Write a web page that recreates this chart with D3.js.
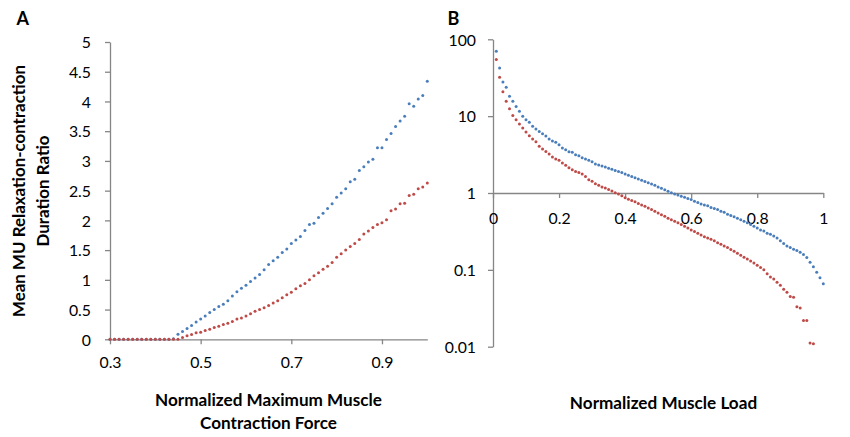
<!DOCTYPE html>
<html>
<head>
<meta charset="utf-8">
<script src="https://cdn.jsdelivr.net/npm/d3@7"></script>
<style>
  html, body { margin: 0; padding: 0; background: #fff; }
  svg { display: block; }
  text { font-family: Lato, "Open Sans", sans-serif; fill: #000; }
</style>
</head>
<body>
<svg id="chart" width="850" height="437"></svg>
<script>
// ---------- Panel A data ----------
const xA = d3.range(71).map(i => +(0.30 + i * 0.01).toFixed(2));
const blueA = [0,0,0,0,0,0,0,0,0,0,0,0,0,0, 0.01,
  0.084,0.13,0.18,0.23,0.29,0.34,0.39,0.45,0.50,0.55,
  0.59,0.65,0.73,0.80,0.86,0.91,0.97,1.03,1.09,1.17,
  1.26,1.32,1.38,1.46,1.52,1.61,1.67,1.73,1.83,1.93,
  1.95,2.05,2.12,2.20,2.28,2.39,2.46,2.53,2.65,2.69,
  2.84,2.90,2.98,3.03,3.22,3.22,3.36,3.46,3.58,3.67,
  3.75,3.96,3.92,4.04,4.10,4.34];
const redA = [0,0,0,0,0,0,0,0,0,0,0,0,0,0,0,0,
  0.03,0.06,0.08,0.11,0.12,0.15,0.17,0.20,0.22,0.25,
  0.27,0.30,0.34,0.36,0.39,0.43,0.47,0.50,0.53,0.57,
  0.61,0.65,0.70,0.75,0.79,0.85,0.90,0.94,1.00,1.07,
  1.12,1.18,1.23,1.29,1.38,1.44,1.50,1.56,1.61,1.68,
  1.77,1.82,1.88,1.93,1.96,2.01,2.16,2.19,2.28,2.29,
  2.42,2.44,2.53,2.56,2.63];
const xTicksA = [0.3, 0.5, 0.7, 0.9];
const yTicksA = [0,0.5,1,1.5,2,2.5,3,3.5,4,4.5,5];

// ---------- Panel B data ----------
const xB = d3.range(1, 101).map(i => +(i * 0.01).toFixed(2));
const blueB = [69.8,42.4,27.9,23.7,18.1,15.6,13.4,11.6,9.94,9.0,
  8.3,7.4,6.8,6.3,5.9,5.5,5.05,4.75,4.56,4.26,
  3.85,3.66,3.45,3.38,3.15,3.06,2.88,2.77,2.66,2.56,
  2.39,2.31,2.24,2.18,2.10,2.03,1.96,1.91,1.85,1.77,
  1.70,1.64,1.58,1.52,1.47,1.41,1.36,1.31,1.26,1.20,
  1.15,1.10,1.05,1.01,0.97,0.94,0.91,0.88,0.85,0.82,
  0.78,0.75,0.72,0.70,0.68,0.65,0.63,0.61,0.58,0.56,
  0.53,0.51,0.49,0.47,0.45,0.43,0.41,0.39,0.37,0.35,
  0.33,0.32,0.30,0.29,0.275,0.26,0.24,0.22,0.204,0.195,
  0.186,0.178,0.17,0.158,0.145,0.126,0.11,0.093,0.079,0.066];
const redB = [54.4,32,20.8,15.6,12.5,10.2,9.0,7.9,7.0,6.2,
  5.57,5.05,4.66,4.05,3.74,3.48,3.22,2.94,2.77,2.66,
  2.46,2.29,2.13,2.01,1.91,1.85,1.77,1.64,1.49,1.42,
  1.32,1.26,1.20,1.16,1.11,1.06,1.01,0.97,0.92,0.87,
  0.83,0.80,0.77,0.73,0.70,0.67,0.64,0.61,0.58,0.55,
  0.52,0.50,0.47,0.45,0.43,0.41,0.39,0.37,0.35,0.33,
  0.315,0.30,0.285,0.27,0.26,0.25,0.24,0.226,0.216,0.204,
  0.195,0.184,0.174,0.164,0.155,0.146,0.138,0.13,0.123,0.115,
  0.107,0.10,0.089,0.081,0.076,0.069,0.063,0.056,0.051,0.045,
  0.044,0.033,0.032,0.022,0.022,0.0112,0.0109,null,null,null];
const xTicksB = [0, 0.2, 0.4, 0.6, 0.8, 1];
const yTicksB = [0.01, 0.1, 1, 10, 100];

const BLUE = "#4a7ebb";
const RED = "#be4b48";
const AXIS = "#868686";
const R = 1.5;

const svg = d3.select("#chart");

function fitText(sel, target) {
  const node = sel.node();
  const w = node.getComputedTextLength();
  const fs = parseFloat(sel.attr("font-size"));
  sel.attr("font-size", (fs * target / w).toFixed(2));
}

// ================= Panel A =================
const xa = d3.scaleLinear().domain([0.3, 1.0]).range([110, 427.3]);
const ya = d3.scaleLinear().domain([0, 5]).range([339.3, 42]);

const gA = svg.append("g");
const yAxA = gA.append("g").attr("transform", `translate(${xa(0.3)},0)`)
  .call(d3.axisLeft(ya).tickValues(yTicksA).tickSize(5).tickPadding(14)
    .tickFormat(d => d3.format("")(d)).tickSizeOuter(0));
const xAxA = gA.append("g").attr("transform", `translate(0,${ya(0)})`)
  .call(d3.axisBottom(xa).tickValues(xTicksA).tickSize(5).tickSizeOuter(0)
    .tickFormat(d3.format(".1f")));

[yAxA, xAxA].forEach(g => {
  g.select(".domain").attr("stroke", AXIS).attr("stroke-width", 1.3);
  g.selectAll(".tick line").attr("stroke", AXIS).attr("stroke-width", 1.3);
  g.selectAll(".tick text").attr("font-size", 15.8).attr("font-family", "Lato").attr("fill", "#000");
});
yAxA.selectAll(".tick text").attr("dy", "0.36em");
xAxA.selectAll(".tick text").attr("dy", 0).attr("y", 28.5);

gA.append("g").selectAll("circle").data(xA.map((x, i) => [x, blueA[i]]))
  .join("circle").attr("cx", d => xa(d[0])).attr("cy", d => ya(d[1])).attr("r", R).attr("fill", BLUE);
gA.append("g").selectAll("circle").data(xA.map((x, i) => [x, redA[i]]))
  .join("circle").attr("cx", d => xa(d[0])).attr("cy", d => ya(d[1])).attr("r", R).attr("fill", RED);

// ================= Panel B =================
const xb = d3.scaleLinear().domain([0, 1]).range([493, 823.3]);
const yb = d3.scaleLog().domain([0.01, 100]).range([346.7, 39.3]);

const gB = svg.append("g");
const yAxB = gB.append("g").attr("transform", `translate(${xb(0)},0)`)
  .call(d3.axisLeft(yb).tickValues(yTicksB).tickSize(5).tickPadding(12).tickSizeOuter(0)
    .tickFormat(d => d3.format("")(d)));
const xAxB = gB.append("g").attr("transform", `translate(0,${yb(1)})`)
  .call(d3.axisBottom(xb).tickValues(xTicksB).tickSize(5).tickSizeOuter(0)
    .tickFormat(d => d3.format("")(d)));

[yAxB, xAxB].forEach(g => {
  g.select(".domain").attr("stroke", AXIS).attr("stroke-width", 1.3);
  g.selectAll(".tick line").attr("stroke", AXIS).attr("stroke-width", 1.3);
  g.selectAll(".tick text").attr("font-size", 15.8).attr("font-family", "Lato").attr("fill", "#000");
});
yAxB.selectAll(".tick text").attr("dy", "0.36em");
xAxB.selectAll(".tick text").attr("dy", 0).attr("y", 30.5);

const bluePts = xB.map((x, i) => [x, blueB[i]]).filter(d => d[1] != null);
const redPts = xB.map((x, i) => [x, redB[i]]).filter(d => d[1] != null);
gB.append("g").selectAll("circle").data(bluePts)
  .join("circle").attr("cx", d => xb(d[0])).attr("cy", d => yb(d[1])).attr("r", R).attr("fill", BLUE);
gB.append("g").selectAll("circle").data(redPts)
  .join("circle").attr("cx", d => xb(d[0])).attr("cy", d => yb(d[1])).attr("r", R).attr("fill", RED);

// ================= Labels =================
svg.append("text").text("A").attr("x", 16.5).attr("y", 25)
  .attr("font-size", 18).attr("font-weight", "bold");
svg.append("text").text("B").attr("x", 447.5).attr("y", 24.5)
  .attr("font-size", 18).attr("font-weight", "bold");

const yt1 = svg.append("text").text("Mean MU Relaxation-contraction")
  .attr("font-size", 16).attr("font-weight", "bold").attr("text-anchor", "middle")
  .attr("transform", "translate(24.5,191) rotate(-90)");
fitText(yt1, 252);
svg.append("text").text("Duration Ratio")
  .attr("font-size", parseFloat(yt1.attr("font-size"))).attr("font-weight", "bold").attr("text-anchor", "middle")
  .attr("transform", "translate(48.5,191) rotate(-90)");

const xt1 = svg.append("text").text("Normalized Maximum Muscle")
  .attr("font-size", 16).attr("font-weight", "bold").attr("text-anchor", "middle")
  .attr("x", 268.5).attr("y", 405.5);
fitText(xt1, 227);
svg.append("text").text("Contraction Force")
  .attr("font-size", parseFloat(xt1.attr("font-size"))).attr("font-weight", "bold").attr("text-anchor", "middle")
  .attr("x", 268.5).attr("y", 428.5);

svg.append("text").text("Normalized Muscle Load")
  .attr("font-size", parseFloat(xt1.attr("font-size"))).attr("font-weight", "bold").attr("text-anchor", "middle")
  .attr("x", 663.5).attr("y", 408.5);
</script>
</body>
</html>
